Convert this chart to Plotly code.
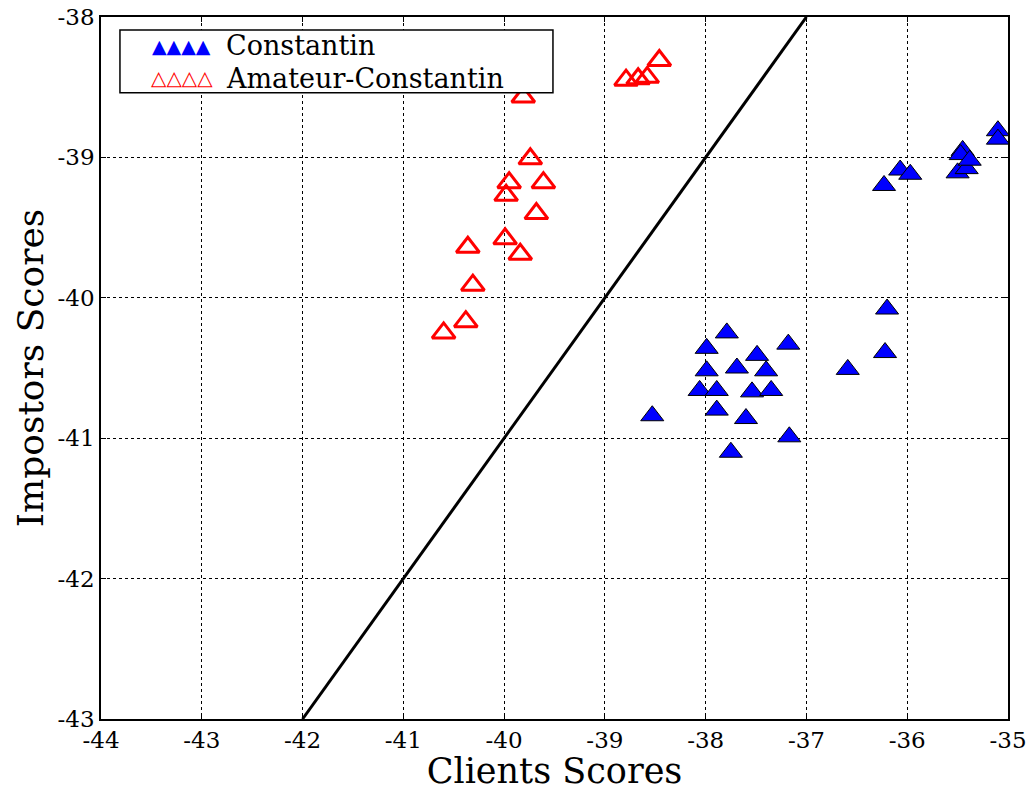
import plotly.graph_objects as go

# Constantin (clients) scores
constantin_x = [-37.79, -37.99, -37.99, -38.06, -37.89, -37.89, -38.53, -37.69, -37.49,
                -37.40, -37.54, -37.35, -37.60, -37.18, -37.17, -37.75, -36.59, -36.20,
                -36.22, -36.23, -36.07, -35.97, -35.50, -35.45, -35.47, -35.41, -35.38,
                -35.10, -35.10]
constantin_y = [-40.25, -40.36, -40.52, -40.66, -40.66, -40.80, -40.84, -40.50, -40.41,
                -40.52, -40.67, -40.66, -40.86, -40.33, -40.99, -41.10, -40.51, -40.08,
                -40.39, -39.20, -39.09, -39.12, -39.11, -38.95, -38.98, -39.08, -39.02,
                -38.81, -38.87]

# Amateur-Constantin scores
amateur_x = [-38.79, -38.67, -38.58, -38.46, -39.81, -39.74, -39.95, -39.98, -39.61,
             -39.68, -39.99, -39.84, -40.36, -40.31, -40.38, -40.60]
amateur_y = [-38.45, -38.44, -38.43, -38.31, -38.57, -39.01, -39.18, -39.27, -39.18,
             -39.40, -39.58, -39.69, -39.64, -39.91, -40.17, -40.25]

# Decision line (y = x - 1)
line_x = [-42, -37]
line_y = [v - 1 for v in line_x]

x_ticks = [-44, -43, -42, -41, -40, -39, -38, -37, -36, -35]
x_tick_labels = ["-44", "-43", "-42", "-41", "-40", "-39", "-38", "-37", "-36", "-35"]
y_ticks = [-43, -42, -41, -40, -39, -38]
y_tick_labels = ["-43", "-42", "-41", "-40", "-39", "-38"]

series_names = ["Constantin", "Amateur-Constantin"]
series_colors = ["blue", "red"]

FONT = "DejaVu Serif"

fig = go.Figure()
fig.add_trace(go.Scatter(
    x=line_x, y=line_y, mode="lines",
    line=dict(color="black", width=3), showlegend=False, hoverinfo="skip"))
fig.add_trace(go.Scatter(
    x=constantin_x, y=constantin_y, mode="markers", name=series_names[0],
    marker=dict(symbol="triangle-up", size=20, color=series_colors[0],
                line=dict(color="black", width=1)), showlegend=False))
fig.add_trace(go.Scatter(
    x=amateur_x, y=amateur_y, mode="markers", name=series_names[1],
    marker=dict(symbol="triangle-up-open", size=20, color=series_colors[1],
                line=dict(color=series_colors[1], width=3)), showlegend=False))

axis_common = dict(
    showline=True, linecolor="black", linewidth=1.5, mirror="allticks",
    ticks="inside", ticklen=5, tickcolor="black", tickwidth=1,
    showgrid=True, gridcolor="black", gridwidth=1, griddash="dot",
    zeroline=False, tickfont=dict(family=FONT, size=23, color="black"),
)

fig.update_xaxes(range=[-44, -35], tickvals=x_ticks, ticktext=x_tick_labels,
                 title=dict(text="Clients Scores", font=dict(family=FONT, size=35, color="black"),
                            standoff=9),
                 **axis_common)
fig.update_yaxes(range=[-43, -38], tickvals=y_ticks, ticktext=y_tick_labels,
                 title=dict(text="Impostors Scores", font=dict(family=FONT, size=36, color="black"),
                            standoff=3),
                 **axis_common)

# Legend box drawn like the matplotlib legend (4 sample markers per entry)
fig.add_shape(type="rect", xref="paper", yref="paper",
              x0=0.0209, x1=0.4983, y0=0.8920, y1=0.9815,
              line=dict(color="black", width=1.5), fillcolor="white", layer="above")
legend_rows_y = [0.9587, 0.9131]
swatch_glyphs = ["\u25B2\u25B2\u25B2\u25B2", "<b>\u25B3\u25B3\u25B3\u25B3</b>"]
swatch_sizes = [19, 20]
for name, color, ry, glyph, gsize in zip(series_names, series_colors, legend_rows_y,
                                         swatch_glyphs, swatch_sizes):
    fig.add_annotation(xref="paper", yref="paper", x=0.0893, y=ry, text=glyph,
                       showarrow=False, xanchor="center", yanchor="middle", borderpad=0,
                       font=dict(family="DejaVu Sans", size=gsize, color=color))
    fig.add_annotation(xref="paper", yref="paper", x=0.1367, y=ry, text=name,
                       showarrow=False, xanchor="left", yanchor="middle", borderpad=0,
                       font=dict(family=FONT, size=27, color="black"))

fig.update_layout(
    width=1034, height=791,
    margin=dict(l=101, r=26, t=17, b=72, autoexpand=False),
    plot_bgcolor="white", paper_bgcolor="white",
    font=dict(family=FONT, color="black"),
    showlegend=False,
)

fig.write_html("out.html", config={"displayModeBar": False},
               post_script="document.body.style.margin='0';")
